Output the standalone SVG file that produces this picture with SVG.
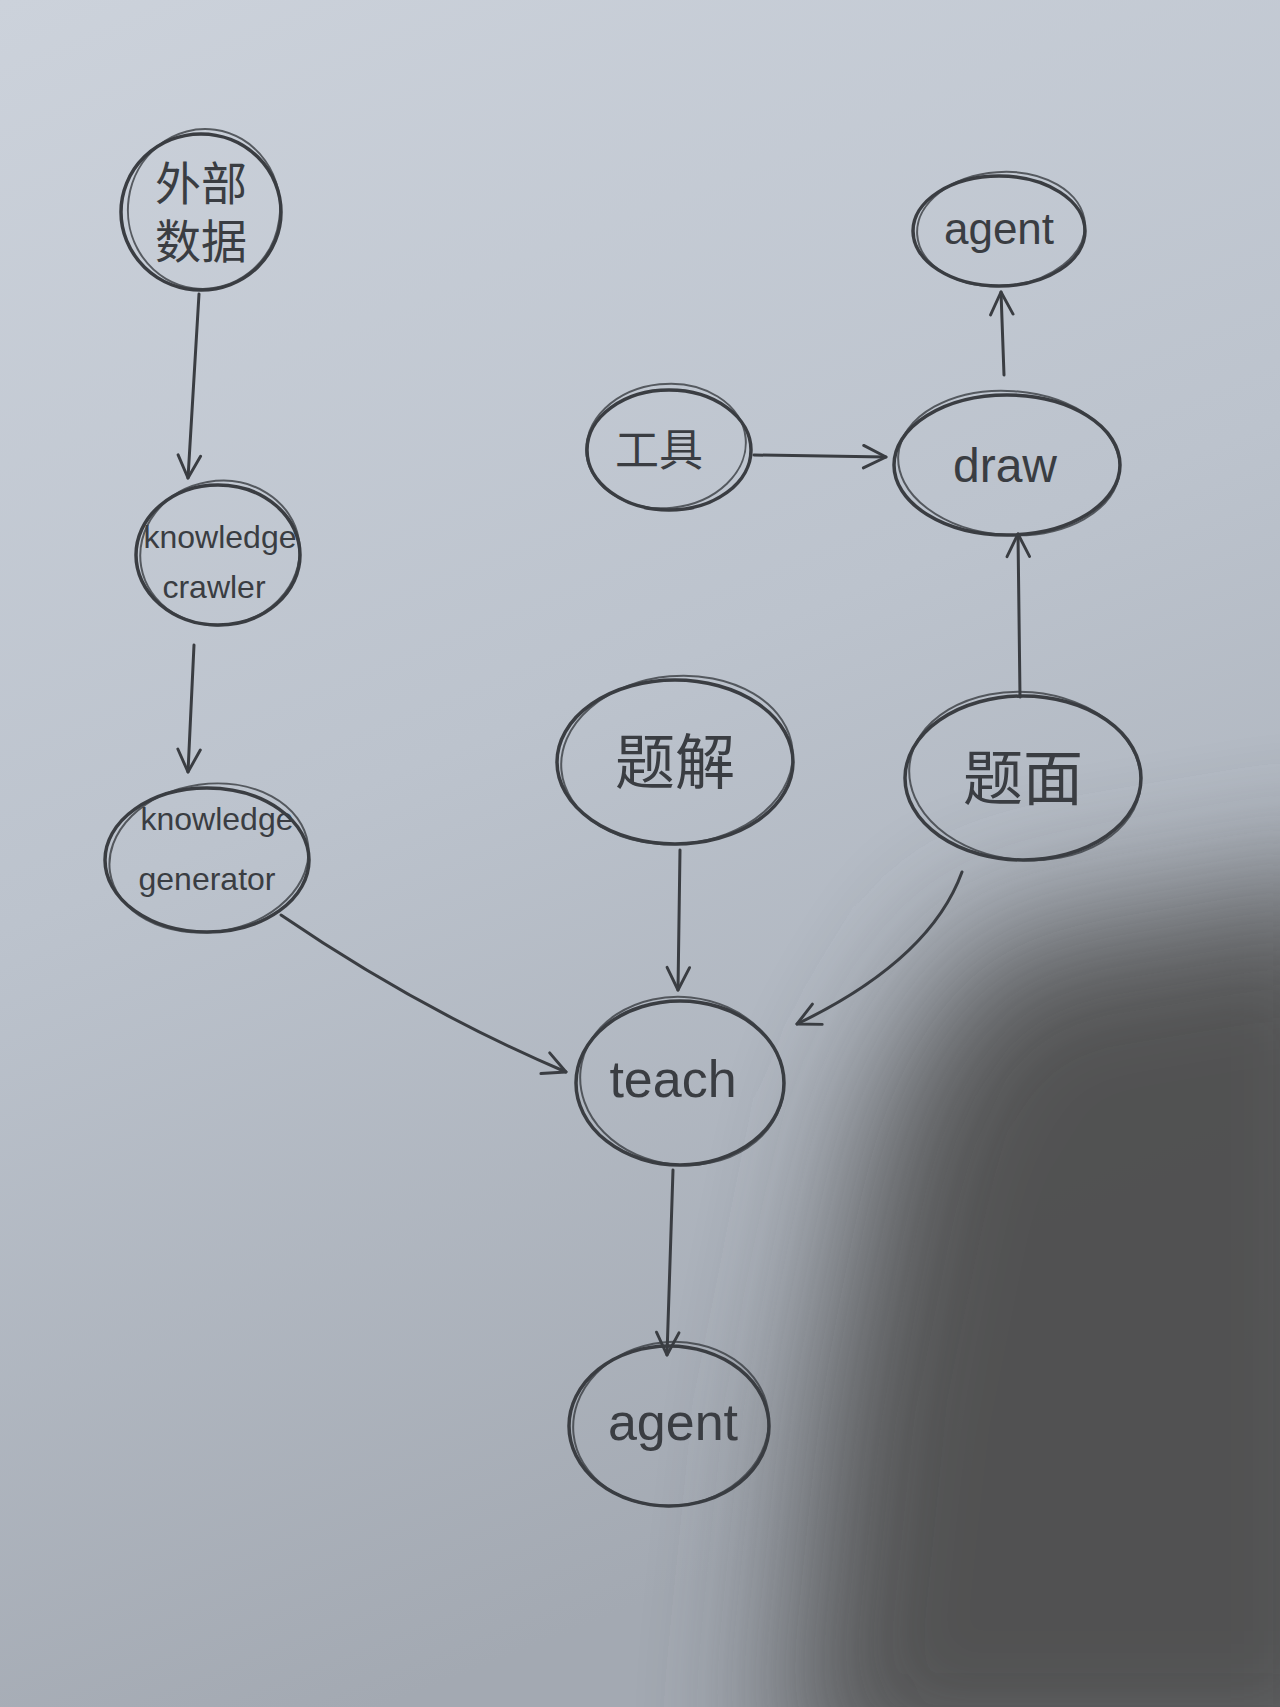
<svg xmlns="http://www.w3.org/2000/svg" width="1280" height="1707" viewBox="0 0 1280 1707">
<defs>
<linearGradient id="paper" x1="0" y1="0" x2="0.3" y2="1">
<stop offset="0" stop-color="#ccd2db"/>
<stop offset="0.5" stop-color="#bcc3cd"/>
<stop offset="1" stop-color="#a3a9b2"/>
</linearGradient>
<filter id="soft" x="-50%" y="-50%" width="200%" height="200%"><feGaussianBlur stdDeviation="70"/></filter>
<marker id="ah" viewBox="0 0 12 12" refX="11" refY="6" markerWidth="9" markerHeight="9" markerUnits="strokeWidth" orient="auto">
<path d="M1,1 L11,6 L1,11" fill="none" stroke="#3a3d42" stroke-width="1.3" stroke-linecap="round" stroke-linejoin="round"/>
</marker>
<style>
.n{fill:none;stroke:#3a3d42;stroke-width:3.5}
.n2{fill:none;stroke:#3a3d42;stroke-width:2;opacity:0.8}
.e{fill:none;stroke:#3a3d42;stroke-width:3;stroke-linecap:round;marker-end:url(#ah)}
.t{font-family:"Liberation Sans","Noto Sans CJK SC",sans-serif;fill:#3a3d42;text-anchor:middle}
</style>
</defs>
<rect width="1280" height="1707" fill="url(#paper)"/>
<path d="M1400,870 L980,940 L880,1100 L820,1400 L780,1800 L1400,1800 Z" fill="#4e4e4e" filter="url(#soft)" opacity="0.95"/>

<g id="connectors">
<path class="e" d="M199,294 L188,478"/>
<path class="e" d="M194,645 L188,772"/>
<path class="e" d="M281,915 Q420,1010 566,1072"/>
<path class="e" d="M680,850 L678,990"/>
<path class="e" d="M962,872 Q930,960 797,1024"/>
<path class="e" d="M673,1170 L667,1355"/>
<path class="e" d="M754,455 L886,457"/>
<path class="e" d="M1020,697 L1018,534"/>
<path class="e" d="M1004,375 L1001,292"/>
</g>

<g id="n-waibu">
<ellipse class="n" cx="201" cy="212" rx="80" ry="78"/>
<ellipse class="n2" cx="204" cy="209" rx="76" ry="80" transform="rotate(8 204 209)"/>
<text class="t" x="201" y="200" font-size="46">外部</text>
<text class="t" x="201" y="258" font-size="46">数据</text>
</g>

<g id="n-crawler">
<ellipse class="n" cx="218" cy="555" rx="82" ry="70"/>
<ellipse class="n2" cx="220" cy="553" rx="80" ry="72" transform="rotate(-10 220 553)"/>
<text class="t" x="220" y="548" font-size="32">knowledge</text>
<text class="t" x="214" y="598" font-size="32">crawler</text>
</g>

<g id="n-generator">
<ellipse class="n" cx="207" cy="860" rx="102" ry="72"/>
<ellipse class="n2" cx="209" cy="858" rx="100" ry="74" transform="rotate(-8 209 858)"/>
<text class="t" x="217" y="830" font-size="32">knowledge</text>
<text class="t" x="207" y="890" font-size="32">generator</text>
</g>

<g id="n-tijie">
<ellipse class="n" cx="675" cy="762" rx="118" ry="82"/>
<ellipse class="n2" cx="677" cy="760" rx="116" ry="84" transform="rotate(-5 677 760)"/>
<text class="t" x="675" y="784" font-size="60">题解</text>
</g>

<g id="n-timian">
<ellipse class="n" cx="1023" cy="778" rx="118" ry="82"/>
<ellipse class="n2" cx="1025" cy="776" rx="116" ry="84" transform="rotate(5 1025 776)"/>
<text class="t" x="1023" y="800" font-size="60">题面</text>
</g>

<g id="n-gongju">
<ellipse class="n" cx="669" cy="450" rx="82" ry="60"/>
<ellipse class="n2" cx="666" cy="446" rx="80" ry="62" transform="rotate(-6 666 446)"/>
<text class="t" x="659" y="466" font-size="44">工具</text>
</g>

<g id="n-draw">
<ellipse class="n" cx="1007" cy="465" rx="113" ry="70"/>
<ellipse class="n2" cx="1009" cy="463" rx="111" ry="72" transform="rotate(4 1009 463)"/>
<text class="t" x="1005" y="482" font-size="48">draw</text>
</g>

<g id="n-agent-top">
<ellipse class="n" cx="999" cy="231" rx="86" ry="55"/>
<ellipse class="n2" cx="1001" cy="229" rx="84" ry="57" transform="rotate(-4 1001 229)"/>
<text class="t" x="999" y="244" font-size="44">agent</text>
</g>

<g id="n-teach">
<ellipse class="n" cx="680" cy="1083" rx="104" ry="82"/>
<ellipse class="n2" cx="682" cy="1081" rx="102" ry="84" transform="rotate(6 682 1081)"/>
<text class="t" x="673" y="1097" font-size="52">teach</text>
</g>

<g id="n-agent-bottom">
<ellipse class="n" cx="669" cy="1426" rx="100" ry="80"/>
<ellipse class="n2" cx="671" cy="1424" rx="98" ry="82" transform="rotate(-6 671 1424)"/>
<text class="t" x="673" y="1440" font-size="52">agent</text>
</g>
</svg>
